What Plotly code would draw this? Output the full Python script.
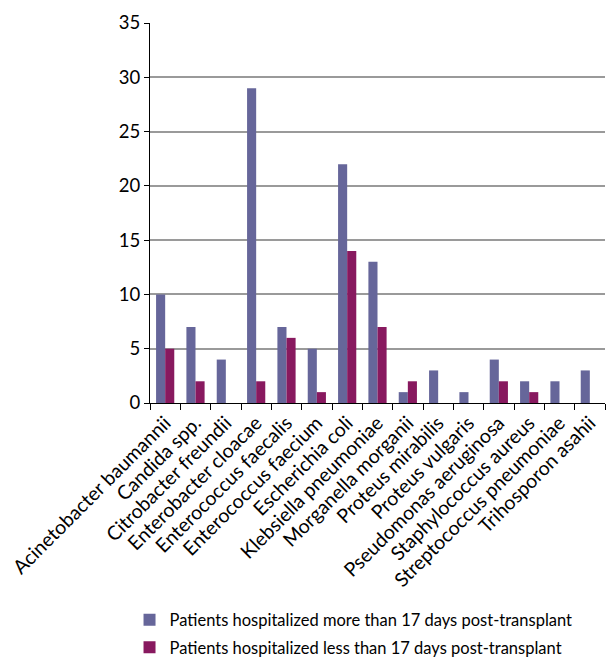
import plotly.graph_objects as go

organisms = [
    "Acinetobacter baumannii", "Candida spp.", "Citrobacter freundii",
    "Enterobacter cloacae", "Enterococcus faecalis", "Enterococcus faecium",
    "Escherichia coli", "Klebsiella pneumoniae", "Morganella morganii",
    "Proteus mirabilis", "Proteus vulgaris", "Pseudomonas aeruginosa",
    "Staphylococcus aureus", "Streptococcus pneumoniae", "Trihosporon asahii",
]
more_than_17 = [10, 7, 4, 29, 7, 5, 22, 13, 1, 3, 1, 4, 2, 2, 3]
less_than_17 = [5, 2, 0, 2, 6, 1, 14, 7, 2, 0, 0, 2, 1, 0, 0]
y_ticks = [0, 5, 10, 15, 20, 25, 30, 35]

FONT = "Lato, 'Open Sans', sans-serif"

fig = go.Figure()
fig.add_trace(go.Bar(
    x=organisms, y=more_than_17,
    name="Patients hospitalized more than 17 days post-transplant",
    legendgroup="more",
    marker=dict(color="#66669a", line=dict(width=0)),
))
fig.add_trace(go.Bar(
    x=organisms, y=less_than_17,
    name="Patients hospitalized less than 17 days post-transplant",
    legendgroup="less",
    marker=dict(color="#88195f", line=dict(width=0)),
))

fig.update_layout(
    width=611, height=657,
    margin=dict(l=150, r=6, t=23, b=254, autoexpand=False),
    paper_bgcolor="white", plot_bgcolor="white",
    barmode="group", bargap=0.4, bargroupgap=0,
    font=dict(family=FONT, color="black"),
    showlegend=True,
    legend=dict(
        orientation="v", x=-0.045, xanchor="left",
        yref="container", y=0.083, yanchor="top",
        font=dict(size=16.5, family=FONT), traceorder="grouped",
        tracegroupgap=3, itemwidth=30, bgcolor="rgba(0,0,0,0)",
    ),
    xaxis=dict(
        tickangle=-45, tickfont=dict(size=19.5, family=FONT),
        showline=True, linecolor="black", linewidth=1,
        ticks="outside", tickson="boundaries", ticklen=6, tickcolor="black",
        showgrid=False, automargin=False,
    ),
    yaxis=dict(
        range=[0, 35], tickvals=y_ticks,
        tickfont=dict(size=18.5, family=FONT),
        showline=True, linecolor="black", linewidth=1,
        ticks="outside", ticklen=5, tickcolor="black",
        showgrid=True, gridcolor="#9a9a9a", gridwidth=1.5,
        zeroline=False, automargin=False,
    ),
)

fig.write_html("out.html")
